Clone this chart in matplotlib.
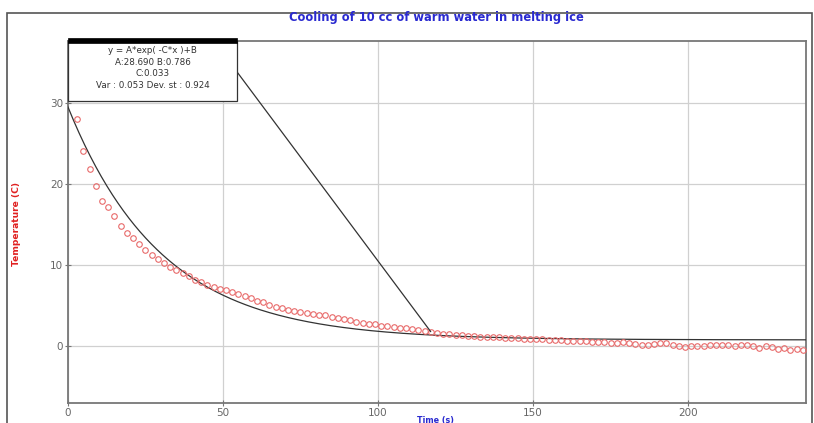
import matplotlib
matplotlib.use("Agg")
import matplotlib.pyplot as plt
import numpy as np
from matplotlib.patches import Rectangle

# ---- data ----
time_s = list(range(3, 239, 2))
temp_c = [28.0, 24.0, 21.8, 19.7, 17.9, 17.1, 16.0, 14.8, 13.9, 13.3,
          12.6, 11.9, 11.3, 10.7, 10.2, 9.8, 9.4, 9.0, 8.6, 8.2,
          7.9, 7.5, 7.3, 7.0, 6.9, 6.7, 6.4, 6.2, 5.9, 5.6,
          5.4, 5.1, 4.9, 4.7, 4.5, 4.4, 4.2, 4.1, 4.0, 3.8,
          3.8, 3.6, 3.5, 3.3, 3.2, 3.0, 2.9, 2.8, 2.7, 2.5,
          2.5, 2.4, 2.3, 2.2, 2.1, 2.0, 1.9, 1.8, 1.6, 1.5,
          1.5, 1.4, 1.4, 1.3, 1.3, 1.2, 1.2, 1.1, 1.1, 1.0,
          1.0, 1.0, 0.9, 0.9, 0.9, 0.9, 0.8, 0.8, 0.8, 0.7,
          0.7, 0.6, 0.6, 0.5, 0.5, 0.5, 0.4, 0.4, 0.5, 0.4,
          0.3, 0.2, 0.2, 0.3, 0.4, 0.4, 0.1, 0.0, -0.1, 0.0,
          0.0, 0.0, 0.1, 0.1, 0.2, 0.1, 0.0, 0.1, 0.2, 0.0,
          -0.2, 0.0, -0.1, -0.3, -0.2, -0.4, -0.3, -0.5]

# fit parameters shown on the chart: y = A*exp(-C*x)+B
fit_A = 28.690
fit_B = 0.786
fit_C = 0.033
fit_var = 0.053
fit_dev = 0.924

x_ticks = [0, 50, 100, 150, 200]
y_ticks = [0, 10, 20, 30]
title = "Cooling of 10 cc of warm water in melting ice"
xlabel = "Time (s)"
ylabel = "Temperature (C)"
pointer_index = 57  # data point the info box points at

# ---- figure ----
fig = plt.figure(figsize=(8.14, 4.23), dpi=100)
fig.patch.set_facecolor("white")
ax = fig.add_axes([0.0835, 0.047, 0.9065, 0.856])

# outer frame
fig.add_artist(Rectangle((7/814, -0.05), 805/814, 1.05 - 13/423,
                         transform=fig.transFigure, fill=False,
                         edgecolor="#555555", lw=1.2))

ax.set_xlim(0, 238)
ax.set_ylim(-7, 37.6)

ax.grid(True, color="#d0d0d0", lw=0.9)
ax.set_axisbelow(True)

xs = np.linspace(0, 238, 400)
ax.plot(xs, fit_A * np.exp(-fit_C * xs) + fit_B, color="#333333", lw=0.9, zorder=3)

ax.plot(time_s, temp_c, linestyle="none", marker="o", markersize=4.0,
        markerfacecolor="none", markeredgecolor="#e86a6a", markeredgewidth=0.8,
        zorder=4)

ax.set_xticks(x_ticks)
ax.set_yticks(y_ticks)
ax.tick_params(direction="inout", length=5, width=0.8, colors="#777777",
               labelsize=7.5, labelcolor="#666666", pad=1)
for sp in ax.spines.values():
    sp.set_color("#777777")
    sp.set_linewidth(1.3)

fig.text(0.5355, 1 - 17/423, title, ha="center", va="center",
         color="#2a2ad0", fontsize=8.3, fontweight="bold")
fig.text(0.5355, 1 - 420/423, xlabel, ha="center", va="center",
         color="#2a2ad0", fontsize=5.8, fontweight="bold")
fig.text(17/814, 1 - 224/423, ylabel, ha="center", va="center", rotation=90,
         color="#e02020", fontsize=6.6, fontweight="bold")

# info box
box_w = 0.229
box_b = 0.835
ax.add_patch(Rectangle((0, box_b), box_w, 1.0 - box_b, transform=ax.transAxes,
                       facecolor="white", edgecolor="#333333", lw=0.9,
                       zorder=6, clip_on=False))
ax.add_patch(Rectangle((0, 0.995), box_w, 0.012, transform=ax.transAxes,
                       facecolor="black", edgecolor="black", lw=0.5,
                       zorder=7, clip_on=False))
lines = ["y = A*exp( -C*x )+B",
         f"A:{fit_A:.3f} B:{fit_B:.3f}",
         f"C:{fit_C:.3f}",
         f"Var : {fit_var:.3f} Dev. st : {fit_dev:.3f}"]
for i, s in enumerate(lines):
    ax.text(box_w / 2, 0.986 - i * 0.032, s, transform=ax.transAxes,
            ha="center", va="top", fontsize=6.3, color="#333333", zorder=8)

ax.annotate("", xy=(time_s[pointer_index], temp_c[pointer_index]), xycoords="data",
            xytext=(box_w, 0.915), textcoords="axes fraction",
            arrowprops=dict(arrowstyle="-", color="#333333", lw=0.9,
                            shrinkA=0, shrinkB=0), zorder=5)

fig.savefig("out.png", dpi=100)
